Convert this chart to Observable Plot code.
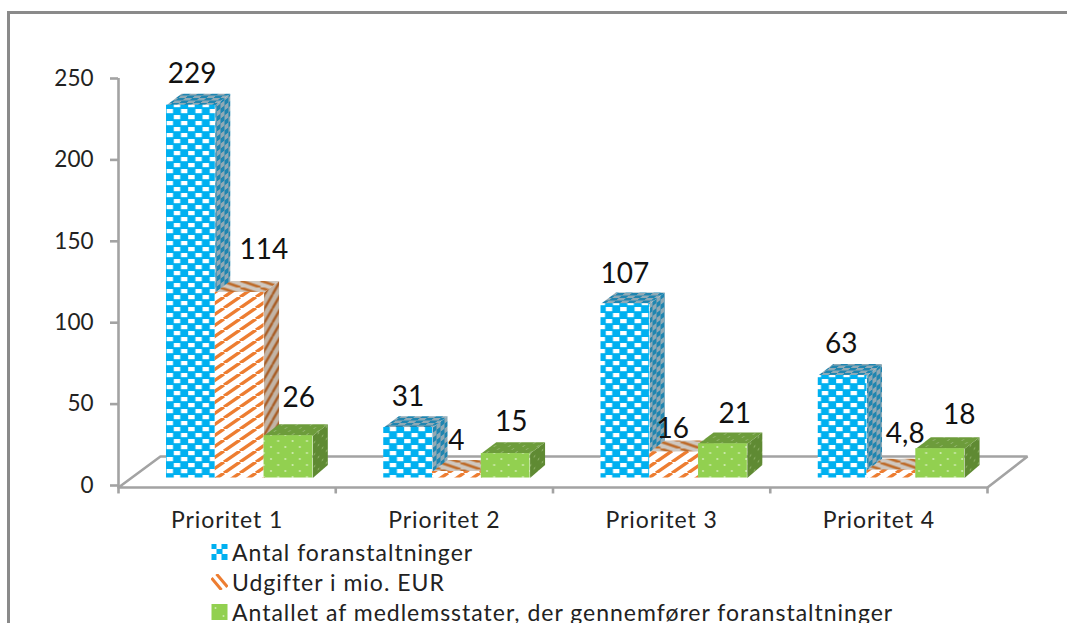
<!DOCTYPE html>
<html><head><meta charset="utf-8">
<script src="https://cdn.jsdelivr.net/npm/d3@7"></script>
<script src="https://cdn.jsdelivr.net/npm/@observablehq/plot@0.6"></script>
<style>
html,body{margin:0;padding:0;background:#fff;overflow:hidden;width:1067px;height:623px}
#box{position:absolute;left:7px;top:11px;width:1060px;height:612px;border-left:3px solid #8a8a8a;border-top:3px solid #8a8a8a;box-sizing:border-box}
#chart{position:absolute;left:0;top:0}
#chart svg{display:block;background:transparent}
#chart g[aria-label="x-axis tick label"] text{letter-spacing:.9px}
#legend{position:absolute;left:211px;top:537px;font:23px Lato;color:#222;letter-spacing:1px}
#legend div{display:flex;align-items:center;height:30px;white-space:nowrap}
#legend svg{margin-right:4px;flex:none}
</style></head><body>
<div id="box"></div><div id="chart"></div><div id="legend"></div>
<script>
const categories = ["Prioritet 1","Prioritet 2","Prioritet 3","Prioritet 4"];
const seriesNames = ["Antal foranstaltninger","Udgifter i mio. EUR","Antallet af medlemsstater, der gennemfører foranstaltninger"];
const antal = [229,31,107,63];
const udgifter = [114,4,16,4.8];
const medlemsstater = [26,15,21,18];
const valueLabels = [["229","31","107","63"],["114","4","16","4,8"],["26","15","21","18"]];
const yTicks = [0,50,100,150,200,250];
const seriesKeys = ["blue","orange","green"];
const seriesValues = [antal,udgifter,medlemsstater];

// chart geometry in data units
const startX=0.221, barW=0.2245, depthX=0.069, depthY=7, baseY=4.6;

const defs = `
<pattern id="blue" width="14.4" height="12" patternUnits="userSpaceOnUse" patternTransform="translate(166,0)">
 <rect width="14.4" height="12" fill="#00b0f0"/><rect x=".6" y="1" width="6.4" height="4.2" fill="#fff"/><rect x="7.8" y="7" width="6.4" height="4.2" fill="#fff"/></pattern>
<pattern id="blueS" width="8" height="10" patternUnits="userSpaceOnUse" patternTransform="skewY(-38)">
 <rect width="8" height="10" fill="#1f85b0"/><rect width="4" height="5" fill="#8fa9b5"/><rect x="4" y="5" width="4" height="5" fill="#8fa9b5"/></pattern>
<pattern id="blueT" width="14" height="5" patternUnits="userSpaceOnUse" patternTransform="skewX(-50)">
 <rect width="14" height="5" fill="#1f85b0"/><rect width="7" height="2.5" fill="#8fa9b5"/><rect x="7" y="2.5" width="7" height="2.5" fill="#8fa9b5"/></pattern>
<pattern id="orange" width="16" height="11" patternUnits="userSpaceOnUse">
 <rect width="16" height="11" fill="#fff"/><path d="M-16,11L0,0M0,11L16,0M16,11L32,0" stroke="#ed7d31" stroke-width="3.4"/></pattern>
<pattern id="orangeS" width="8" height="14" patternUnits="userSpaceOnUse">
 <rect width="8" height="14" fill="#c2b4a6"/><path d="M-8,14L0,0M0,14L8,0M8,14L16,0" stroke="#a85c24" stroke-width="2.4"/></pattern>
<pattern id="orangeT" width="20" height="7" patternUnits="userSpaceOnUse">
 <rect width="20" height="7" fill="#cfc8c0"/><path d="M-20,0L0,7M0,0L20,7M20,0L40,7" stroke="#bd6a28" stroke-width="2.6"/></pattern>
<pattern id="green" width="14.4" height="12" patternUnits="userSpaceOnUse" patternTransform="translate(268,0)">
 <rect width="14.4" height="12" fill="#92d050"/><circle cx="3" cy="3" r="1.1" fill="#cfeab0"/><circle cx="10.2" cy="9" r="1.1" fill="#cfeab0"/></pattern>
<pattern id="greenS" width="8" height="12" patternUnits="userSpaceOnUse" patternTransform="skewY(-38)">
 <rect width="8" height="12" fill="#5f8a33"/><circle cx="2" cy="3" r=".9" fill="#8aae63"/><circle cx="6" cy="9" r=".9" fill="#8aae63"/></pattern>
<pattern id="greenT" width="14.4" height="6" patternUnits="userSpaceOnUse" patternTransform="skewX(-50)">
 <rect width="14.4" height="6" fill="#6d9c3b"/><circle cx="3" cy="1.5" r=".9" fill="#95b771"/><circle cx="10" cy="4.5" r=".9" fill="#95b771"/></pattern>`;

const bars = categories.flatMap((c,i)=>seriesKeys.map((key,s)=>({
  key, i, s, value: seriesValues[s][i],
  x1: i+startX+s*barW, x2: i+startX+(s+1)*barW,
  y1: baseY, y2: baseY+seriesValues[s][i]
})));
const poly = (pts,fill)=>Plot.line(pts,{x:"x",y:"y",fill:`url(#${fill})`,stroke:"none"});
const barMarks = bars.flatMap(b=>[
  poly([{x:b.x2,y:b.y1},{x:b.x2+depthX,y:b.y1+depthY+1},{x:b.x2+depthX,y:b.y2+depthY},{x:b.x2,y:b.y2}], b.key+"S"),
  poly([{x:b.x1,y:b.y2},{x:b.x1+depthX,y:b.y2+depthY},{x:b.x2+depthX,y:b.y2+depthY},{x:b.x2,y:b.y2}], b.key+"T"),
  Plot.rect([b],{x1:"x1",x2:"x2",y1:"y1",y2:"y2",fill:`url(#${b.key})`})
]);

// value-label placement relative to each bar (dx in x units, lift in y units)
const labelOffsets = [[0.118,0.112,0.11,0.106],[0.224,0.11,0.106,0.176],[0.16,0.138,0.167,0.2]];
const labelLift =   [[ 19,18.6,18.5,19.3],[ 26,19,14,22.3],[ 23,19.5,18.5,20.5]];
const labels = bars.map(b=>({
  x:b.x1+labelOffsets[b.s][b.i], y:b.y2+labelLift[b.s][b.i], text:valueLabels[b.s][b.i]
}));

const floor = [{x:0,y:-1.2},{x:0.193,y:17.8},{x:4.184,y:17.8},{x:4,y:-1.2},{x:0,y:-1.2}];
const gray="#a3a3a3";

const chart = Plot.plot({
  width:1067, height:535,
  marginLeft:118, marginRight:80, marginTop:78, marginBottom:50,
  x:{type:"linear",domain:[0,4]},
  y:{domain:[0,250]},
  style:{background:"transparent",fontFamily:"Lato",color:"#222"},
  marks:[
    ()=>{const g=document.createElementNS("http://www.w3.org/2000/svg","defs");g.innerHTML=defs;return g;},
    Plot.line(floor,{x:"x",y:"y",stroke:gray,strokeWidth:2.6,fill:"#fff",strokeLinejoin:"miter"}),
    Plot.ruleX([0],{y1:-1.2,y2:250,stroke:gray,strokeWidth:2.6}),
    Plot.ruleX([0,1,2,3,4],{y1:-1.2,y2:-5.2,stroke:gray,strokeWidth:2.6}),
    Plot.axisY({ticks:yTicks,tickSize:8,tickPadding:17,fontSize:22.5,stroke:gray,strokeWidth:2.6,label:null,tickFormat:d=>String(d)}),
    Plot.axisX({ticks:categories.map((c,i)=>i+0.5),tickFormat:d=>categories[d-0.5],tickSize:0,tickPadding:26,fontSize:23,label:null}),
    ...barMarks,
    Plot.text(labels,{x:"x",y:"y",text:"text",fontSize:28,fill:"#111"})
  ]
});
document.getElementById("chart").append(chart);

const swatches = [
 `<rect width="16" height="16" fill="#fff"/><rect x="0" y="0" width="5" height="5" fill="#00b0f0"/><rect x="10" y="0" width="6" height="5" fill="#00b0f0"/><rect x="5" y="5" width="6" height="5" fill="#00b0f0"/><rect x="0" y="10" width="5" height="6" fill="#00b0f0"/><rect x="10" y="10" width="6" height="6" fill="#00b0f0"/>`,
 `<path d="M0,4L10,16M5,0L16,13" stroke="#ed7d31" stroke-width="3" fill="none"/>`,
 `<rect width="16" height="16" fill="#92d050"/><circle cx="4" cy="4" r="1" fill="#cfeab0"/><circle cx="12" cy="12" r="1" fill="#cfeab0"/>`
];
document.getElementById("legend").innerHTML = seriesNames.map((n,i)=>
 `<div><svg width="17" height="16" viewBox="0 0 16 16">${swatches[i]}</svg><span>${n}</span></div>`).join("");
</script>
</body></html>
